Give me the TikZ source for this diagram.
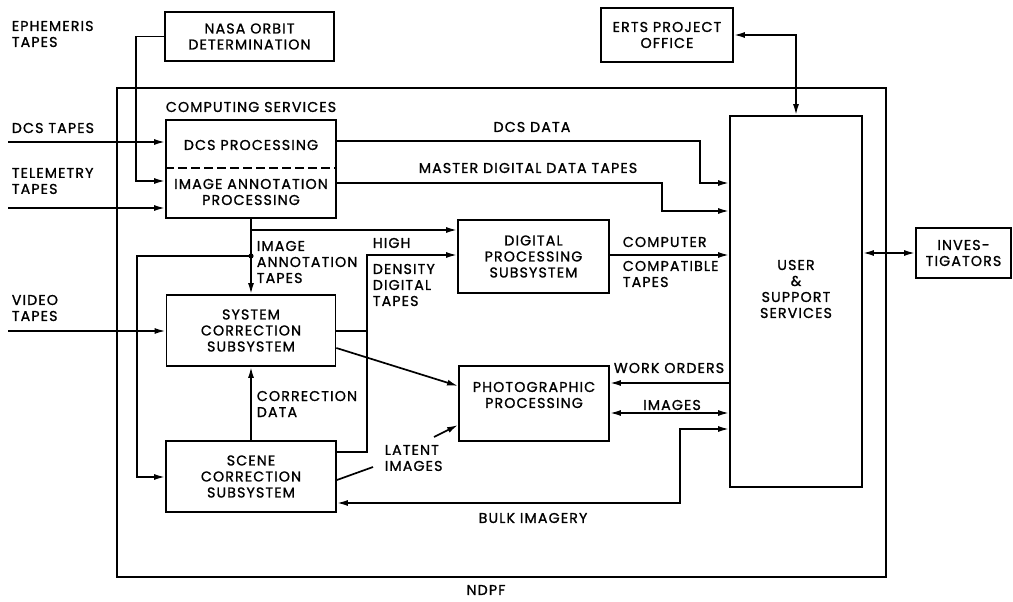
\documentclass[tikz,border=0pt]{standalone}
\usepackage{fontspec}
\setmainfont{Poppins}
\newfontfamily\diagfont{Poppins}[LetterSpace=8,BoldFont={Poppins},BoldFeatures={FakeBold=1.2}]
\usetikzlibrary{arrows.meta,positioning}

\begin{document}
\begin{tikzpicture}[x=1pt,y=-1pt,line width=1.7pt,
  >={Latex[length=11pt,width=6pt]},
  every node/.style={font=\diagfont\bfseries\fontsize{14.2}{16}\selectfont,align=center,inner sep=1pt},
  blk/.style={draw,line width=1.8pt,inner sep=0pt},
  lbl/.style={anchor=west,align=left}]
  \useasboundingbox (0,0) rectangle (1013,602);

  % NDPF frame
  \node[draw,minimum width=769,minimum height=489,inner sep=0pt] (ndpf) at (501.5,332.5) {};
  \node (ndpflbl) at (486,590) {NDPF};

  % Blocks
  \node[blk,minimum width=169,minimum height=49] (nasa) at (249.5,36.5) {NASA ORBIT\\DETERMINATION};
  \node[blk,minimum width=132,minimum height=54] (erts) at (667,35) {ERTS PROJECT\\OFFICE};
  \node[blk,minimum width=170,minimum height=98] (comp) at (251,169) {};
  \node (dcs) at (251,145) {DCS PROCESSING};
  \node (ann) at (251,192) {IMAGE ANNOTATION\\PROCESSING};
  \draw[dashed,dash pattern=on 9pt off 4pt] (comp.west |- 0,168) -- (comp.east |- 0,168);
  \node[blk,minimum width=169,minimum height=71] (sys) at (251,330.5) {SYSTEM\\CORRECTION\\SUBSYSTEM};
  \node[blk,minimum width=170,minimum height=71] (scene) at (251,476.5) {SCENE\\CORRECTION\\SUBSYSTEM};
  \node[blk,minimum width=151,minimum height=73] (dig) at (533.5,256.5) {DIGITAL\\PROCESSING\\SUBSYSTEM};
  \node[blk,minimum width=150,minimum height=75] (photo) at (534,403.5) {};
  \node (phototxt) at (534,395) {PHOTOGRAPHIC\\PROCESSING};
  \node[blk,minimum width=132,minimum height=371] (user) at (796,301.5) {};
  \node (usertxt) at (796,289) {USER\\\&\\SUPPORT\\SERVICES};
  \node[blk,minimum width=95,minimum height=50] (inv) at (963.5,253) {INVES-\\TIGATORS};

  % Inputs
  \coordinate (dcsin) at (8,142);
  \coordinate (telin) at (8,208);
  \coordinate (vidin) at (8,331);
  \draw[->] (dcsin) -- (comp.west |- dcsin);
  \draw[->] (telin) -- (comp.west |- telin);
  \draw[->] (vidin) -- (sys.west |- vidin);
  \draw[->] (nasa.west) -- ++(-28,0) |- (comp.west |- 0,181);

  % Computing services outputs
  \draw[->] (comp.east |- 0,141) -| (700,183) -- (user.west |- 0,183);
  \draw[->] (comp.east |- 0,183) -| (662,211) -- (user.west |- 0,211);
  \coordinate (tap) at (251,256);
  \draw[->] (comp.south) -- (sys.north);
  \fill (tap) circle (2.6pt);
  \draw[->] (comp.south |- 0,230) -- (dig.west |- 0,230);
  \draw[->] (tap) -| (137,477) -- (scene.west |- 0,477);

  % Correction subsystems
  \draw[->] (scene.north) -- (sys.south);
  \draw (sys.east |- 0,331) -- (367,331);
  \draw[->] (scene.east |- 0,452) -| (367,255) -- (dig.west |- 0,255);
  \draw[->] (sys.east |- 0,348) -- (photo.west |- 0,386);
  \coordinate (lat1) at (373,467);
  \coordinate (lat2) at (434,437);
  \draw (scene.east |- 0,480) -- (lat1);
  \draw[->] (lat2) -- (photo.west |- 0,425);

  % User services links
  \draw[->] (dig.east |- 0,255) -- (user.west |- 0,255);
  \draw[->] (user.west |- 0,383) -- (photo.east |- 0,383);
  \draw[<->] (photo.east |- 0,413) -- (user.west |- 0,413);
  \draw[<->] (scene.east |- 0,503) -| (680,429) -- (user.west |- 0,429);
  \draw[<->] (erts.east) -| (user.north);
  \draw[<->] (user.east |- inv.west) -- (inv.west);

  % Labels
  \node[lbl] (ephl) at (10,34) {EPHEMERIS\\TAPES};
  \node[lbl] (dcsl) at (10,128) {DCS TAPES};
  \node[lbl] (tell) at (10,181) {TELEMETRY\\TAPES};
  \node[lbl] (vidl) at (10,308) {VIDEO\\TAPES};
  \node (compl) at (251,107) {COMPUTING SERVICES};
  \node[lbl] (iatl) at (255,262) {IMAGE\\ANNOTATION\\TAPES};
  \node[lbl] (highl) at (371,243) {HIGH};
  \node[lbl] (hddl) at (371,285) {DENSITY\\DIGITAL\\TAPES};
  \node[lbl] (cdl) at (255,404) {CORRECTION\\DATA};
  \node[lbl] (latl) at (383,458) {LATENT\\IMAGES};
  \node (dcsdl) at (532,127) {DCS DATA};
  \node (mddl) at (528,168) {MASTER DIGITAL DATA TAPES};
  \node[lbl] (cctl) at (621,242) {COMPUTER};
  \node[lbl] (cct2l) at (621,274) {COMPATIBLE\\TAPES};
  \node (wol) at (669,368) {WORK ORDERS};
  \node (imgl) at (672,405) {IMAGES};
  \node (bulkl) at (533,518) {BULK IMAGERY};
\end{tikzpicture}
\end{document}
